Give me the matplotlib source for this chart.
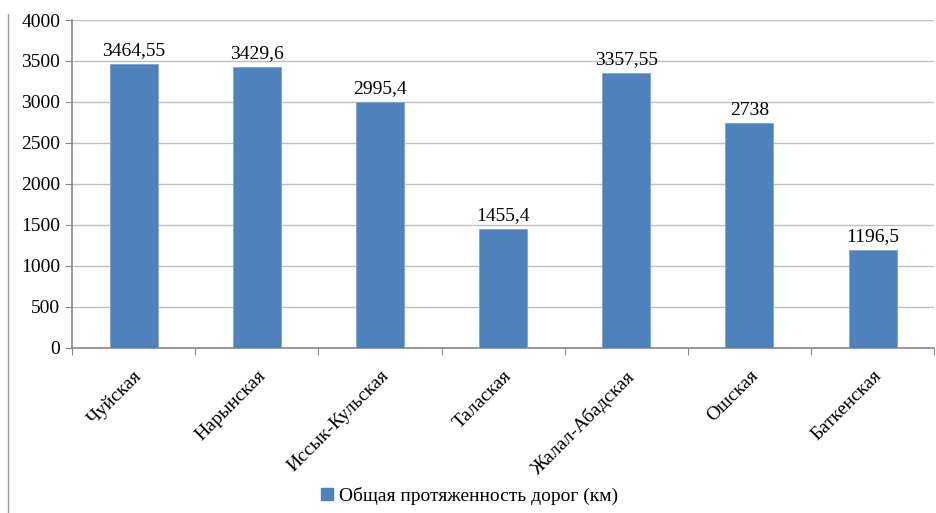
import matplotlib.pyplot as plt
from matplotlib.lines import Line2D

regions = ['Чуйская', 'Нарынская', 'Иссык-Кульская', 'Талаская',
           'Жалал-Абадская', 'Ошская', 'Баткенская']
roads = [3464.55, 3429.6, 2995.4, 1455.4, 3357.55, 2738, 1196.5]
labels = ['3464,55', '3429,6', '2995,4', '1455,4', '3357,55', '2738', '1196,5']

plt.rcParams['font.family'] = ['Liberation Serif', 'DejaVu Serif']
blue = '#4F81BD'
fs = 14

fig = plt.figure(figsize=(9.36, 5.13), dpi=100)
ax = fig.add_axes([0.077, 0.322, 0.921, 0.639])

x = range(len(regions))
bars = ax.bar(x, roads, width=0.39, color=blue, edgecolor='#7FA3D0', linewidth=0.6,
              label='Общая протяженность дорог (км)', zorder=3)
for b, t in zip(bars, labels):
    ax.text(b.get_x() + b.get_width() / 2, b.get_height() + 60, t,
            ha='center', va='bottom', fontsize=fs)

ax.set_xlim(-0.5, len(regions) - 0.5)
ax.set_ylim(0, 4000)
ax.set_yticks(range(0, 4001, 500))
ax.yaxis.grid(True, color='#BFBFBF', linewidth=1, zorder=0)
ax.tick_params(axis='y', labelsize=fs, length=5, color='#868686', direction='out')

# category separators as major ticks, names on minor ticks
ax.set_xticks([i + 0.5 for i in range(-1, len(regions))], minor=False)
ax.set_xticklabels([])
ax.tick_params(axis='x', length=5, color='#868686', direction='out')
ax.set_xticks(list(x), minor=True)
ax.set_xticklabels(regions, minor=True, rotation=45, ha='right',
                   rotation_mode='anchor', fontsize=fs)
ax.tick_params(axis='x', which='minor', length=0, pad=14)

for s in ['top', 'right']:
    ax.spines[s].set_visible(False)
for s in ['left', 'bottom']:
    ax.spines[s].set_color('#868686')
    ax.spines[s].set_linewidth(1.2)

fig.add_artist(Line2D([8 / 936, 8 / 936], [0, 1 - 14 / 513], color='#9A9A9A',
                      linewidth=1, transform=fig.transFigure))

fig.legend(handles=[Line2D([], [], marker='s', color=blue, linestyle='none', markersize=8)],
           labels=['Общая протяженность дорог (км)'], loc='center',
           bbox_to_anchor=(0.5, 1 - 496 / 513), frameon=False, fontsize=fs,
           handletextpad=0.1, handlelength=1)

fig.savefig('out.png', dpi=100)
